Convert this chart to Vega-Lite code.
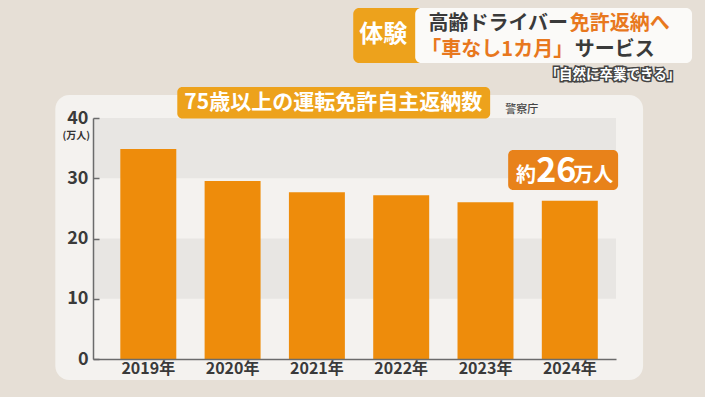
{
  "$schema": "https://vega.github.io/schema/vega-lite/v6.json",
  "width": 523,
  "height": 241,
  "autosize": {"type": "none"},
  "padding": {"left": 93, "top": 118, "right": 89, "bottom": 38},
  "background": "#e6dfd6",
  "config": {"view": {"stroke": null}, "font": "Noto Sans CJK JP"},
  "datasets": {
    "returns": [
      {"year": "2019", "count": 34.85},
      {"year": "2020", "count": 29.54},
      {"year": "2021", "count": 27.67},
      {"year": "2022", "count": 27.17},
      {"year": "2023", "count": 26.0},
      {"year": "2024", "count": 26.27}
    ],
    "one": [{"k": 1}]
  },
  "encoding": {
    "x": {"field": "year", "type": "nominal"}
  },
  "layer": [
    {
      "data": {"name": "one"},
      "mark": {"type": "rect", "color": "#f4f2ef", "cornerRadius": 14},
      "encoding": {
        "x": {"datum": "2019", "bandPosition": -1.161},
        "x2": {"datum": "2019", "bandPosition": 9.339},
        "y": {"datum": 43.82, "type": "quantitative"},
        "y2": {"datum": -3.49}
      }
    },
    {
      "data": {"name": "one"},
      "mark": {"type": "rect", "color": "#e8e6e3"},
      "encoding": {
        "x": null,
        "y": {"datum": 30, "type": "quantitative"},
        "y2": {"datum": 40}
      }
    },
    {
      "data": {"name": "one"},
      "mark": {"type": "rect", "color": "#e8e6e3"},
      "encoding": {
        "x": null,
        "y": {"datum": 10, "type": "quantitative"},
        "y2": {"datum": 20}
      }
    },
    {
      "data": {"name": "returns"},
      "mark": {"type": "bar", "color": "#ee8c0b"},
      "encoding": {
        "x": {
          "field": "year",
          "type": "nominal",
          "sort": null,
          "scale": {"paddingInner": 0.336, "paddingOuter": 0.27, "align": 0.6},
          "axis": {
            "title": null,
            "ticks": false,
            "bandPosition": 0.5,
            "labelExpr": "datum.label + '年'",
            "labelAngle": 0,
            "labelAlign": "center",
            "labelFontSize": 16,
            "labelFontWeight": "bold",
            "labelColor": "#3a3a3a",
            "labelPadding": 9,
            "domainColor": "#6b6b6b",
            "domainWidth": 1.5,
            "zindex": 2
          }
        },
        "y": {
          "field": "count",
          "type": "quantitative",
          "scale": {"domain": [0, 40], "nice": false, "zero": true},
          "axis": {
            "title": null,
            "values": [0, 10, 20, 30, 40],
            "grid": false,
            "tickSize": -6,
            "tickColor": "#6b6b6b",
            "tickWidth": 1.5,
            "domainColor": "#6b6b6b",
            "domainWidth": 1.5,
            "labelFontSize": 18,
            "labelFontWeight": "bold",
            "labelColor": "#3a3a3a",
            "labelPadding": 11,
            "zindex": 2
          }
        }
      }
    },
    {
      "data": {"name": "one"},
      "mark": {"type": "text", "text": "(万人)", "fontSize": 10, "fontWeight": "bold", "color": "#333333", "align": "center", "baseline": "middle"},
      "encoding": {
        "x": {"datum": "2019", "bandPosition": -0.786},
        "y": {"datum": 36.95, "type": "quantitative"}
      }
    },
    {
      "data": {"name": "one"},
      "mark": {"type": "rect", "color": "#e8821a", "cornerRadius": 5},
      "encoding": {
        "x": {"datum": "2019", "bandPosition": 6.929},
        "x2": {"datum": "2019", "bandPosition": 8.893},
        "y": {"datum": 34.69, "type": "quantitative"},
        "y2": {"datum": 28.05}
      }
    },
    {
      "data": {"name": "one"},
      "mark": {"type": "text", "text": "約", "fontSize": 20, "fontWeight": "bold", "color": "#ffffff", "align": "left", "baseline": "alphabetic"},
      "encoding": {
        "x": {"datum": "2019", "bandPosition": 7.071},
        "y": {"datum": 29.38, "type": "quantitative"}
      }
    },
    {
      "data": {"name": "one"},
      "mark": {"type": "text", "text": "26", "fontSize": 34, "fontWeight": "bold", "color": "#ffffff", "align": "left", "baseline": "alphabetic"},
      "encoding": {
        "x": {"datum": "2019", "bandPosition": 7.43},
        "y": {"datum": 29.38, "type": "quantitative"}
      }
    },
    {
      "data": {"name": "one"},
      "mark": {"type": "text", "text": "万人", "fontSize": 20, "fontWeight": "bold", "color": "#ffffff", "align": "left", "baseline": "alphabetic"},
      "encoding": {
        "x": {"datum": "2019", "bandPosition": 8.09},
        "y": {"datum": 29.38, "type": "quantitative"}
      }
    },
    {
      "data": {"name": "one"},
      "mark": {"type": "rect", "color": "#eda21c", "cornerRadius": 5},
      "encoding": {
        "x": {"datum": "2019", "bandPosition": 1.018},
        "x2": {"datum": "2019", "bandPosition": 6.607},
        "y": {"datum": 45.15, "type": "quantitative"},
        "y2": {"datum": 39.9}
      }
    },
    {
      "data": {"name": "one"},
      "mark": {"type": "text", "text": "75歳以上の運転免許自主返納数", "fontSize": 21, "fontWeight": "bold", "color": "#ffffff", "align": "center", "baseline": "middle"},
      "encoding": {
        "x": {"datum": "2019", "bandPosition": 3.804},
        "y": {"datum": 42.49, "type": "quantitative"}
      }
    },
    {
      "data": {"name": "one"},
      "mark": {"type": "text", "text": "警察庁", "fontSize": 11, "fontWeight": 500, "color": "#444444", "align": "left", "baseline": "middle"},
      "encoding": {
        "x": {"datum": "2019", "bandPosition": 6.875},
        "y": {"datum": 41.33, "type": "quantitative"}
      }
    },
    {
      "data": {"name": "one"},
      "mark": {"type": "rect", "color": "#eda21c", "cornerRadius": 6},
      "encoding": {
        "x": {"datum": "2019", "bandPosition": 4.161},
        "x2": {"datum": "2019", "bandPosition": 5.5},
        "y": {"datum": 58.26, "type": "quantitative"},
        "y2": {"datum": 49.13}
      }
    },
    {
      "data": {"name": "one"},
      "mark": {"type": "rect", "color": "#fbfaf8", "cornerRadius": 6},
      "encoding": {
        "x": {"datum": "2019", "bandPosition": 5.268},
        "x2": {"datum": "2019", "bandPosition": 10.214},
        "y": {"datum": 58.26, "type": "quantitative"},
        "y2": {"datum": 49.13}
      }
    },
    {
      "data": {"name": "one"},
      "mark": {"type": "text", "text": "体験", "fontSize": 24, "fontWeight": "bold", "color": "#ffffff", "align": "center", "baseline": "middle"},
      "encoding": {
        "x": {"datum": "2019", "bandPosition": 4.696},
        "y": {"datum": 53.78, "type": "quantitative"}
      }
    },
    {
      "data": {"name": "one"},
      "mark": {"type": "text", "text": "高齢ドライバー", "fontSize": 20, "fontWeight": "bold", "color": "#3a3a3a", "align": "right", "baseline": "middle"},
      "encoding": {
        "x": {"datum": "2019", "bandPosition": 8.0},
        "y": {"datum": 55.6, "type": "quantitative"}
      }
    },
    {
      "data": {"name": "one"},
      "mark": {"type": "text", "text": "免許返納へ", "fontSize": 20, "fontWeight": "bold", "color": "#e8781e", "align": "left", "baseline": "middle"},
      "encoding": {
        "x": {"datum": "2019", "bandPosition": 8.03},
        "y": {"datum": 55.6, "type": "quantitative"}
      }
    },
    {
      "data": {"name": "one"},
      "mark": {"type": "text", "text": "「車なし1カ月」", "fontSize": 20, "fontWeight": "bold", "color": "#e8781e", "align": "right", "baseline": "middle"},
      "encoding": {
        "x": {"datum": "2019", "bandPosition": 8.09},
        "y": {"datum": 51.25, "type": "quantitative"}
      }
    },
    {
      "data": {"name": "one"},
      "mark": {"type": "text", "text": "サービス", "fontSize": 20, "fontWeight": "bold", "color": "#3a3a3a", "align": "left", "baseline": "middle"},
      "encoding": {
        "x": {"datum": "2019", "bandPosition": 8.12},
        "y": {"datum": 51.25, "type": "quantitative"}
      }
    },
    {
      "data": {"name": "one"},
      "mark": {"type": "text", "text": "「自然に卒業できる」", "fontSize": 13.5, "fontWeight": "bold", "fill": "#ffffff", "stroke": "#444444", "strokeWidth": 3, "align": "center", "baseline": "middle"},
      "encoding": {
        "x": {"datum": "2019", "bandPosition": 8.8},
        "y": {"datum": 47.14, "type": "quantitative"}
      }
    },
    {
      "data": {"name": "one"},
      "mark": {"type": "text", "text": "「自然に卒業できる」", "fontSize": 13.5, "fontWeight": "bold", "color": "#ffffff", "align": "center", "baseline": "middle"},
      "encoding": {
        "x": {"datum": "2019", "bandPosition": 8.8},
        "y": {"datum": 47.14, "type": "quantitative"}
      }
    }
  ]
}
